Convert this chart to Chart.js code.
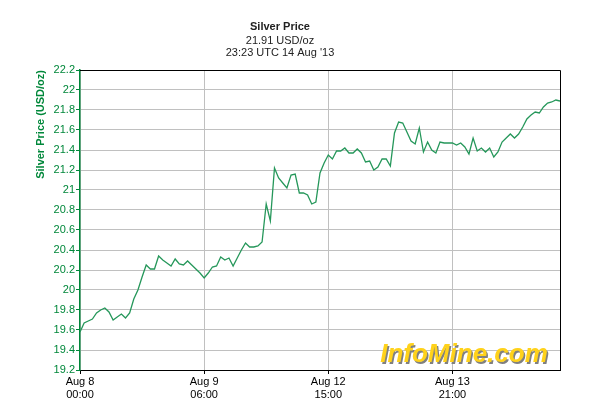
<!DOCTYPE html>
<html>
<head>
<meta charset="utf-8">
<script src="https://cdn.jsdelivr.net/npm/chart.js@4/dist/chart.umd.min.js"></script>
<style>
  html, body { margin: 0; padding: 0; background: #fff; }
  #silver-chart { display: block; }
</style>
</head>
<body>
<canvas id="silver-chart" width="594" height="414"></canvas>
<script>
// silver price, one point per sample
var silverPrices = [
    19.58, 19.67, 19.69, 19.71, 19.77, 19.80, 19.82, 19.78, 19.70, 19.73,
    19.76, 19.72, 19.77, 19.91, 20.00, 20.13, 20.25, 20.21, 20.21, 20.34,
    20.30, 20.27, 20.24, 20.31, 20.26, 20.25, 20.29, 20.25, 20.21, 20.17,
    20.12, 20.17, 20.23, 20.24, 20.33, 20.30, 20.32, 20.24, 20.32, 20.40,
    20.47, 20.43, 20.43, 20.44, 20.48, 20.86, 20.69, 21.22, 21.12, 21.07,
    21.02, 21.15, 21.16, 20.97, 20.97, 20.95, 20.86, 20.88, 21.17, 21.27,
    21.35, 21.31, 21.39, 21.39, 21.42, 21.37, 21.37, 21.41, 21.37, 21.28,
    21.29, 21.20, 21.23, 21.31, 21.31, 21.24, 21.57, 21.68, 21.67, 21.58,
    21.49, 21.46, 21.62, 21.38, 21.48, 21.40, 21.37, 21.48, 21.47, 21.47,
    21.47, 21.45, 21.47, 21.43, 21.36, 21.52, 21.39, 21.42, 21.38, 21.42,
    21.33, 21.38, 21.48, 21.52, 21.56, 21.52, 21.56, 21.63, 21.71, 21.75,
    21.78, 21.77, 21.83, 21.87, 21.88, 21.90, 21.89
];
var xTickPositions = [0, 30, 60, 90];
var xTickLabels = [['Aug 8', '00:00'], ['Aug 9', '06:00'], ['Aug 12', '15:00'], ['Aug 13', '21:00']];
var titleText = 'Silver Price';
var subtitleLines = ['21.91 USD/oz', "23:23 UTC 14 Aug '13"];

var fontFamily = "'Liberation Sans', Arial, sans-serif";
var green = '#00873a';
var gridGray = '#c0c0c0';

var points = silverPrices.map(function (v, i) { return { x: i, y: v }; });

// black frame on top/right + the watermark
var framePlugin = {
    id: 'frame',
    beforeDatasetsDraw: function (chart) {
        var ctx = chart.ctx;
        ctx.save();
        ctx.font = 'italic bold 26px ' + fontFamily;
        ctx.textAlign = 'center';
        ctx.textBaseline = 'middle';
        ctx.fillStyle = '#808080';
        ctx.fillText('InfoMine.com', 465.5, 356.5);
        ctx.fillStyle = '#ffd21a';
        ctx.fillText('InfoMine.com', 464, 355);
        ctx.restore();
    },
    afterDraw: function (chart) {
        var ctx = chart.ctx;
        var a = chart.chartArea;
        ctx.save();
        ctx.strokeStyle = '#000';
        ctx.lineWidth = 1;
        ctx.beginPath();
        ctx.moveTo(a.left, a.top + 0.5);
        ctx.lineTo(a.right + 0.5, a.top + 0.5);
        ctx.lineTo(a.right + 0.5, a.bottom);
        ctx.stroke();
        ctx.restore();
    }
};

var ctx = document.getElementById('silver-chart');
var silverChart = new Chart(ctx, {
    type: 'line',
    data: {
        datasets: [{
            data: points,
            borderColor: '#25975a',
            borderWidth: 1.3,
            pointRadius: 0,
            tension: 0,
            fill: false
        }]
    },
    options: {
        responsive: false,
        animation: false,
        layout: { padding: { left: 0, right: 34, top: 0, bottom: 0 } },
        plugins: {
            legend: { display: false },
            tooltip: { enabled: false },
            title: {
                display: true,
                text: titleText,
                color: '#222',
                font: { family: fontFamily, size: 11, weight: 'bold', lineHeight: 1.1 },
                padding: { top: 21, bottom: 1 }
            },
            subtitle: {
                display: true,
                text: subtitleLines,
                color: '#222',
                font: { family: fontFamily, size: 11, lineHeight: 1.1 },
                padding: { top: 0.5, bottom: 11.2 }
            }
        },
        scales: {
            x: {
                type: 'linear',
                min: 0,
                max: silverPrices.length - 1,
                afterBuildTicks: function (scale) {
                    scale.ticks = xTickPositions.map(function (p) { return { value: p }; });
                },
                afterFit: function (scale) { scale.height = 44; },
                ticks: {
                    autoSkip: false,
                    maxRotation: 0,
                    padding: 2,
                    color: '#000',
                    font: { family: fontFamily, size: 11, lineHeight: 1.15 },
                    callback: function (value) {
                        var idx = xTickPositions.indexOf(value);
                        return idx >= 0 ? xTickLabels[idx] : '';
                    }
                },
                grid: { color: gridGray, tickColor: '#000', tickLength: 4, lineWidth: 1 },
                border: { color: '#000', width: 1 }
            },
            y: {
                min: 19.2,
                max: 22.2,
                afterFit: function (scale) { scale.width = 80; },
                ticks: {
                    stepSize: 0.2,
                    padding: 1,
                    color: green,
                    font: { family: fontFamily, size: 11 },
                    callback: function (value) { return parseFloat(value.toFixed(1)).toString(); }
                },
                grid: { color: gridGray, tickColor: green, tickLength: 4, lineWidth: 1 },
                border: { color: green, width: 1.5 },
                title: {
                    display: true,
                    text: 'Silver Price (USD/oz)',
                    align: 'end',
                    color: green,
                    font: { family: fontFamily, size: 11, weight: 'bold' },
                    padding: { top: 34, bottom: 0 }
                }
            }
        }
    },
    plugins: [framePlugin]
});
</script>
</body>
</html>
